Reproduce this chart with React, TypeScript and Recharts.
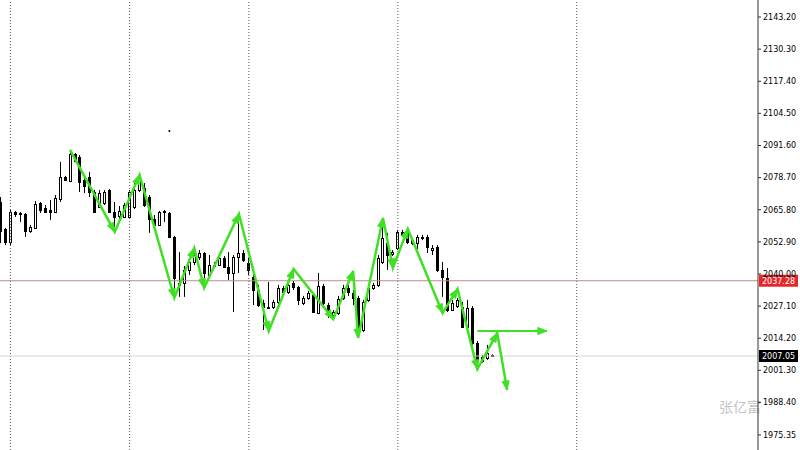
import React from "react";
import { ComposedChart, Bar, Line, XAxis, YAxis, ReferenceLine, ReferenceDot } from "recharts";

// ---- candle data (price units) ----
const opens = [2068.9,2058.1,2052.8,2064.9,2064.5,2064.1,2057.3,2058.5,2068.5,2066.5,2065.7,2064.9,2070.1,2079.0,2077.3,2088.2,2087.0,2077.7,2079.0,2072.9,2066.9,2068.5,2073.7,2064.9,2063.3,2062.9,2062.9,2066.9,2073.7,2074.5,2070.9,2062.1,2059.7,2065.3,2064.5,2054.9,2035.6,2036.4,2041.6,2044.8,2046.8,2048.4,2039.6,2043.6,2043.6,2046.4,2042.8,2040.4,2046.8,2048.4,2044.4,2038.8,2033.6,2028.4,2026.7,2026.7,2028.8,2034.4,2032.8,2036.4,2034.8,2028.4,2030.4,2031.6,2024.3,2035.2,2027.5,2023.5,2024.3,2030.4,2034.4,2032.4,2030.4,2017.5,2029.6,2034.4,2035.6,2044.8,2052.4,2048.0,2050.4,2056.9,2056.5,2053.6,2052.4,2054.9,2054.9,2049.6,2050.8,2041.6,2038.4,2025.5,2027.1,2026.7,2018.7,2026.3,2012.3,2005.1,2006.3,2007.6];
const highs = [2070.9,2058.5,2065.7,2065.3,2064.9,2064.5,2059.7,2069.3,2068.9,2067.7,2069.7,2071.7,2085.0,2079.4,2089.0,2088.6,2087.8,2079.8,2081.0,2073.7,2073.7,2073.7,2074.1,2068.9,2067.3,2068.5,2073.7,2076.5,2079.8,2076.5,2071.7,2063.7,2065.3,2065.7,2064.9,2055.3,2048.8,2043.2,2046.4,2050.8,2049.6,2048.8,2047.6,2044.8,2048.4,2047.2,2048.8,2047.6,2063.7,2049.6,2046.4,2041.6,2035.6,2029.6,2036.8,2029.6,2035.6,2035.2,2037.6,2037.2,2035.2,2031.2,2033.2,2032.0,2040.4,2036.0,2028.4,2025.5,2031.2,2035.6,2035.6,2033.6,2031.2,2029.6,2035.2,2036.4,2047.6,2061.7,2056.5,2049.6,2057.7,2057.7,2058.5,2054.5,2055.7,2055.7,2055.7,2051.6,2051.6,2044.8,2042.4,2029.6,2030.4,2028.8,2029.6,2027.1,2013.1,2007.5,2011.5,2007.7];
const lows = [2052.4,2051.6,2051.6,2062.9,2060.9,2054.9,2056.5,2058.1,2064.5,2064.5,2061.7,2064.5,2068.9,2077.3,2076.9,2085.0,2072.9,2072.5,2070.9,2064.5,2066.5,2067.7,2064.5,2058.9,2060.9,2062.5,2062.5,2066.1,2072.9,2066.9,2056.5,2059.3,2059.3,2060.9,2054.5,2029.6,2030.8,2030.8,2039.6,2043.6,2045.6,2034.4,2038.8,2042.4,2043.2,2042.4,2037.6,2024.7,2040.4,2044.8,2039.6,2027.5,2026.7,2017.5,2026.3,2025.9,2027.9,2032.4,2032.0,2033.6,2027.5,2027.5,2029.6,2024.3,2023.9,2027.5,2022.3,2022.3,2023.5,2029.6,2031.2,2027.5,2014.3,2016.7,2028.8,2033.6,2034.8,2044.0,2041.6,2047.2,2049.6,2054.9,2052.0,2051.6,2050.0,2053.6,2048.4,2047.6,2040.8,2030.8,2024.7,2025.1,2026.3,2018.3,2018.3,2011.5,2001.4,2004.3,2005.5,2007.0];
const closes = [2057.3,2052.8,2064.9,2064.1,2064.1,2057.3,2058.9,2068.1,2065.7,2064.9,2064.9,2070.5,2079.0,2077.7,2088.2,2085.4,2076.9,2075.3,2072.9,2064.9,2072.5,2072.9,2064.9,2062.9,2065.3,2067.7,2072.9,2073.7,2079.0,2067.7,2062.1,2059.7,2064.9,2064.9,2054.9,2038.4,2036.4,2041.6,2044.8,2047.6,2048.4,2040.4,2043.6,2043.4,2046.4,2042.8,2040.4,2046.8,2048.4,2045.6,2041.6,2033.6,2027.5,2026.7,2026.5,2028.8,2034.4,2032.8,2035.6,2034.8,2029.6,2030.4,2032.4,2024.7,2035.2,2028.4,2024.3,2024.7,2030.0,2034.4,2032.8,2030.4,2017.5,2028.8,2034.4,2035.6,2046.4,2054.5,2047.6,2048.8,2056.9,2055.7,2052.8,2052.4,2054.9,2054.7,2050.8,2050.4,2041.6,2038.8,2025.5,2028.4,2029.6,2018.7,2026.3,2012.3,2005.1,2006.7,2008.3,2007.05];

// ---- zigzag overlay ----
const zigzagIdx = [14,23,28,35,39,41,48,54,59,67,71,72,77,79,82,89,92,96,100,102];
const zigzagPrice = [2089.8,2056.9,2079.8,2030.4,2050.4,2034.4,2064.1,2017.1,2042.0,2021.9,2041.2,2014.3,2062.5,2042.4,2058.1,2024.3,2034.0,2001.8,2016.3,1993.4];
const arrowIdx = [96,110];
const arrowPrice = [2017.1,2017.1];

// ---- axis / markers ----
const yTicks = [2143.20,2130.30,2117.40,2104.50,2091.60,2078.70,2065.80,2052.90,2040.00,2027.10,2014.20,2001.30,1988.40,1975.35];
const yDomain = [1969.3, 2150.03];
const sessionIdx = [2,26,50,80,116];
const bidPrice = 2037.28;
const lastPrice = 2007.05;
const strayDot = { i: 34, price: 2097.4 };
const slotCount = 153;
const watermark = "张亿富";

const GREEN = "#3fe024";

const data = Array.from({ length: slotCount }, (_, i) => {
  const row: any = { i };
  if (i < opens.length) {
    row.o = opens[i]; row.h = highs[i]; row.l = lows[i]; row.c = closes[i];
    row.range = [lows[i], highs[i]];
  }
  const z = zigzagIdx.indexOf(i);
  if (z >= 0) row.zz = zigzagPrice[z];
  const a = arrowIdx.indexOf(i);
  if (a >= 0) row.hz = arrowPrice[a];
  return row;
});

const Candle = (props: any) => {
  const { x, y, width, height, payload } = props;
  if (!payload || payload.o == null || x == null || y == null) return <g />;
  const top = Math.min(y, y + height);
  const bot = Math.max(y, y + height);
  const span = payload.h - payload.l;
  const px = (v: number) => (span > 0 ? top + ((payload.h - v) / span) * (bot - top) : top);
  const cx = Math.round(x + width / 2);
  const bull = payload.c >= payload.o;
  let bTop = px(Math.max(payload.o, payload.c));
  let bBot = px(Math.min(payload.o, payload.c));
  if (bBot - bTop < 1) bBot = bTop + 1;
  return (
    <g>
      <line x1={cx + 0.5} x2={cx + 0.5} y1={top} y2={Math.max(bot, top + 1)} stroke="#000" strokeWidth={1} />
      <rect x={cx - 0.5} y={Math.round(bTop) + 0.5} width={2} height={Math.max(0.5, Math.round(bBot - bTop) - 1 + 1)} fill={bull ? "#fff" : "#000"} stroke="#000" strokeWidth={1} />
    </g>
  );
};

const arrowDot = (props: any) => {
  const { cx, cy, index, points } = props;
  const key = `ad-${props.dataKey}-${index}`;
  if (cx == null || cy == null || !Array.isArray(points)) return <g key={key} />;
  let prev: any = null;
  for (let k = index - 1; k >= 0; k--) {
    const p = points[k];
    if (p && p.y != null && !isNaN(p.y) && p.value != null) { prev = p; break; }
  }
  if (!prev) return <g key={key} />;
  const ang = Math.atan2(cy - prev.y, cx - prev.x);
  const len = 9, half = 3.5;
  const cs = Math.cos(ang), sn = Math.sin(ang);
  const bx = cx - len * cs, by = cy - len * sn;
  const pts = `${cx},${cy} ${bx - half * sn},${by + half * cs} ${bx + half * sn},${by - half * cs}`;
  return <polygon key={key} points={pts} fill={GREEN} stroke={GREEN} strokeWidth={1} />;
};

const priceTag = (bg: string, value: number) => (props: any) => {
  const vb = props.viewBox || {};
  const x = (vb.x || 0) + (vb.width || 0) + 1;
  const y = vb.y || 0;
  return (
    <g>
      <rect x={x} y={y - 6} width={39} height={12} fill={bg} />
      <text x={x + 3} y={y + 3} fill="#fff" fontSize={8} fontFamily="DejaVu Sans">{value.toFixed(2)}</text>
    </g>
  );
};

export default function App() {
  return (
    <div style={{ position: "fixed", left: 0, top: 0, width: 800, height: 450, background: "#fff", overflow: "hidden" }}>
      <div style={{ position: "absolute", left: 719, top: 399, fontSize: 14, lineHeight: "14px", color: "#c4c4c4", fontFamily: "Noto Sans CJK SC" }}>{watermark}</div>
      <div style={{ position: "absolute", left: 0, top: 0 }}>
        <ComposedChart width={800} height={450} data={data} margin={{ top: 0, right: 0, bottom: 0, left: -2 }}>
          <XAxis dataKey="i" type="category" hide />
          <YAxis
            orientation="right"
            type="number"
            domain={yDomain}
            allowDataOverflow
            ticks={yTicks}
            interval={0}
            width={42}
            tickSize={3}
            tickMargin={2}
            axisLine={{ stroke: "#333" }}
            tickLine={{ stroke: "#333" }}
            tick={{ fontSize: 8, fill: "#000", fontFamily: "DejaVu Sans" }}
            tickFormatter={(v: number) => v.toFixed(2)}
          />
          {sessionIdx.map((s) => (
            <ReferenceLine key={`s${s}`} x={s} stroke="#555" strokeDasharray="1 2" />
          ))}
          <ReferenceLine y={bidPrice} stroke="#c48a8a" label={priceTag("#e8262a", bidPrice)} />
          <ReferenceLine y={lastPrice} stroke="#d4d4d4" label={priceTag("#000", lastPrice)} />
          <Bar dataKey="range" shape={Candle} isAnimationActive={false} barSize={4} />
          <Line dataKey="zz" type="linear" stroke={GREEN} strokeWidth={2.5} connectNulls dot={arrowDot} activeDot={false} isAnimationActive={false} />
          <Line dataKey="hz" type="linear" stroke={GREEN} strokeWidth={2} connectNulls dot={arrowDot} activeDot={false} isAnimationActive={false} />
          <ReferenceDot x={strayDot.i} y={strayDot.price} r={1} fill="#000" stroke="none" />
        </ComposedChart>
      </div>
    </div>
  );
}
